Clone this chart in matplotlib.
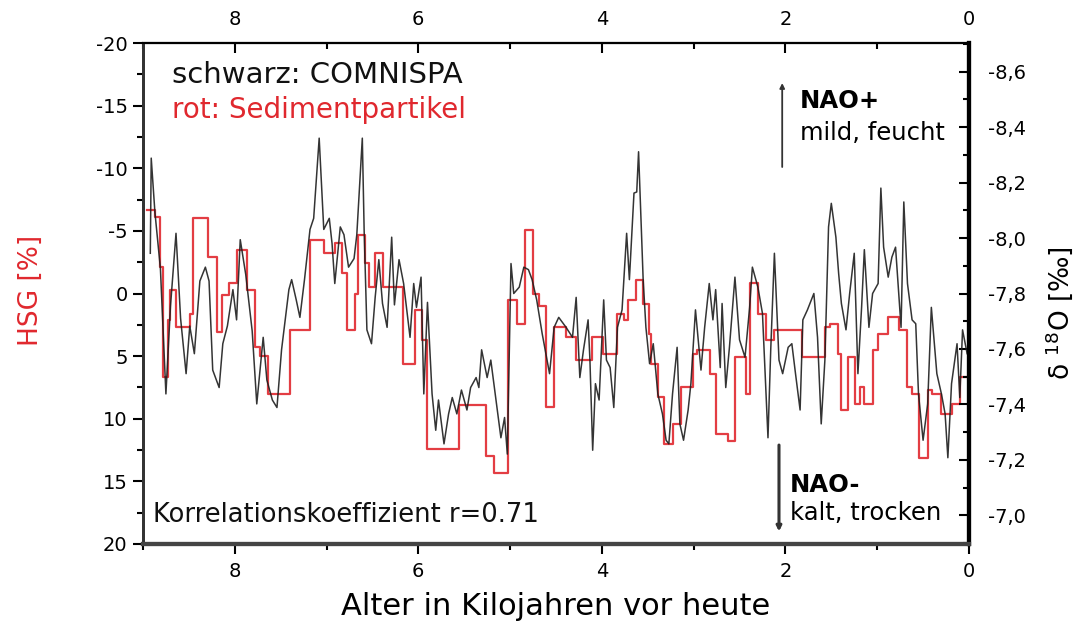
import matplotlib
matplotlib.use("Agg")
import matplotlib.pyplot as plt
from matplotlib.ticker import MultipleLocator, FuncFormatter

# ---------------- data ----------------
# COMNISPA delta18O record (black), age in ka BP
black_age = [8.92, 8.91, 8.87, 8.81, 8.75, 8.70, 8.64, 8.59, 8.53, 8.49,
             8.44, 8.38, 8.32, 8.28, 8.24, 8.17, 8.13, 8.08, 8.02, 7.98,
             7.94, 7.88, 7.81, 7.76, 7.69, 7.65, 7.59, 7.54, 7.49, 7.41,
             7.38, 7.33, 7.29, 7.24, 7.18, 7.14, 7.08, 7.03, 6.97, 6.94,
             6.91, 6.85, 6.81, 6.76, 6.70, 6.67, 6.61, 6.59, 6.56, 6.51,
             6.47, 6.43, 6.39, 6.34, 6.29, 6.26, 6.21, 6.16, 6.09, 6.05,
             6.02, 5.97, 5.94, 5.90, 5.85, 5.81, 5.78, 5.72, 5.67, 5.63,
             5.58, 5.53, 5.47, 5.43, 5.37, 5.34, 5.31, 5.25, 5.21, 5.14,
             5.10, 5.06, 5.03, 4.99, 4.96, 4.90, 4.85, 4.80, 4.76, 4.71,
             4.65, 4.61, 4.57, 4.52, 4.47, 4.39, 4.32, 4.28, 4.24, 4.20,
             4.15, 4.13, 4.10, 4.07, 4.03, 3.98, 3.95, 3.91, 3.87, 3.83,
             3.78, 3.73, 3.70, 3.65, 3.62, 3.60, 3.55, 3.52, 3.48, 3.44,
             3.39, 3.34, 3.30, 3.27, 3.23, 3.18, 3.15, 3.11, 3.06, 3.03,
             2.98, 2.92, 2.88, 2.83, 2.79, 2.76, 2.71, 2.69, 2.65, 2.61,
             2.55, 2.50, 2.44, 2.39, 2.36, 2.30, 2.25, 2.19, 2.16, 2.12,
             2.07, 2.03, 1.97, 1.93, 1.89, 1.84, 1.81, 1.76, 1.69, 1.65,
             1.61, 1.57, 1.53, 1.50, 1.45, 1.42, 1.39, 1.34, 1.30, 1.25,
             1.21, 1.17, 1.14, 1.09, 1.05, 0.99, 0.96, 0.93, 0.88, 0.84,
             0.80, 0.74, 0.71, 0.67, 0.62, 0.58, 0.55, 0.50, 0.45, 0.41,
             0.35, 0.30, 0.26, 0.23, 0.19, 0.13, 0.10, 0.07, 0.02]
black_d18o = [-7.945, -8.288, -8.094, -7.890, -7.438, -7.755, -8.017, -7.710, -7.511, -7.683,
              -7.583, -7.845, -7.895, -7.845, -7.524, -7.461, -7.619, -7.683, -7.814, -7.705,
              -7.994, -7.868, -7.665, -7.402, -7.642, -7.488, -7.416, -7.389, -7.597, -7.814,
              -7.850, -7.777, -7.714, -7.850, -8.031, -8.071, -8.360, -8.031, -8.071, -7.981,
              -7.836, -8.040, -8.012, -7.895, -7.926, -8.012, -8.360, -8.026, -7.669, -7.619,
              -7.786, -7.922, -7.764, -7.678, -8.003, -7.759, -7.922, -7.836, -7.642, -7.836,
              -7.750, -7.859, -7.438, -7.768, -7.438, -7.307, -7.416, -7.258, -7.366, -7.425,
              -7.366, -7.452, -7.380, -7.461, -7.497, -7.461, -7.597, -7.497, -7.560, -7.380,
              -7.280, -7.353, -7.221, -7.908, -7.800, -7.823, -7.895, -7.886, -7.850, -7.777,
              -7.655, -7.583, -7.511, -7.678, -7.714, -7.678, -7.642, -7.786, -7.497, -7.597,
              -7.705, -7.560, -7.235, -7.475, -7.416, -7.777, -7.560, -7.533, -7.389, -7.678,
              -7.741, -8.017, -7.850, -8.162, -8.166, -8.311, -7.850, -7.678, -7.547, -7.619,
              -7.438, -7.366, -7.271, -7.258, -7.438, -7.606, -7.330, -7.271, -7.380, -7.475,
              -7.741, -7.524, -7.678, -7.836, -7.705, -7.814, -7.533, -7.764, -7.461, -7.606,
              -7.859, -7.633, -7.570, -7.750, -7.895, -7.823, -7.728, -7.280, -7.597, -7.945,
              -7.560, -7.511, -7.606, -7.619, -7.511, -7.380, -7.705, -7.741, -7.800, -7.642,
              -7.330, -7.560, -8.040, -8.125, -8.003, -7.872, -7.764, -7.669, -7.800, -7.945,
              -7.511, -7.750, -7.958, -7.678, -7.800, -7.836, -8.180, -7.967, -7.859, -7.931,
              -7.967, -7.678, -8.130, -7.836, -7.705, -7.691, -7.438, -7.271, -7.402, -7.750,
              -7.511, -7.438, -7.366, -7.208, -7.475, -7.619, -7.425, -7.669, -7.583]

# Sediment particle HSG record (red, step line), age in ka BP
red_age = [8.96, 8.87, 8.81, 8.78, 8.73, 8.70, 8.64, 8.49, 8.46, 8.29,
           8.19, 8.14, 8.06, 7.98, 7.87, 7.78, 7.73, 7.64, 7.40, 7.18,
           7.03, 6.91, 6.83, 6.78, 6.69, 6.66, 6.58, 6.54, 6.47, 6.38,
           6.17, 6.04, 5.96, 5.90, 5.56, 5.26, 5.18, 5.02, 4.93, 4.84,
           4.75, 4.68, 4.61, 4.52, 4.39, 4.28, 4.11, 3.99, 3.83, 3.76,
           3.71, 3.63, 3.55, 3.49, 3.47, 3.39, 3.32, 3.23, 3.14, 3.01,
           2.96, 2.82, 2.76, 2.63, 2.55, 2.43, 2.39, 2.30, 2.21, 2.12,
           1.82, 1.57, 1.51, 1.43, 1.39, 1.32, 1.24, 1.19, 1.14, 1.05,
           0.99, 0.88, 0.76, 0.67, 0.62, 0.54, 0.45, 0.40, 0.30, 0.19,
           0.10, 0.00]
red_hsg = [-6.7, -6.1, -2.1, 6.7, 2.1, -0.3, 2.7, 1.6, -6.0, -2.9,
           3.1, 0.1, -0.8, -3.5, -0.3, 4.3, 5.0, 8.0, 2.9, -4.3,
           -3.2, -4.0, -1.6, 2.9, 0.0, -4.7, -2.4, -0.5, -3.2, -0.5,
           5.6, 1.3, 3.7, 12.4, 8.9, 13.0, 14.3, 0.5, 2.4, -5.1,
           0.0, 1.0, 9.1, 2.7, 3.5, 5.3, 3.5, 4.8, 1.6, 2.1,
           0.5, -1.1, 0.8, 3.2, 5.6, 8.3, 12.0, 10.4, 7.5, 4.8,
           4.5, 6.4, 11.2, 11.8, 5.1, 8.0, -0.8, 1.6, 3.7, 2.9,
           5.1, 2.7, 2.4, 4.8, 9.3, 5.1, 8.8, 7.5, 8.8, 4.5,
           3.2, 1.9, 2.9, 7.5, 8.0, 13.1, 7.7, 8.0, 9.6, 8.8,
           6.7, 6.7]

x_ticks = [8, 6, 4, 2, 0]
hsg_ticks = [-20, -15, -10, -5, 0, 5, 10, 15, 20]
d18o_ticks = [-8.6, -8.4, -8.2, -8.0, -7.8, -7.6, -7.4, -7.2, -7.0]

RED = "#e0282e"
BLACK = "#1e1e1e"

# ---------------- figure ----------------
plt.rcParams["font.family"] = ["DejaVu Sans"]
plt.rcParams["axes.unicode_minus"] = False

fig = plt.figure(figsize=(10.88, 6.26), dpi=100)
ax = fig.add_axes([0.1314, 0.131, 0.7592, 0.8003])
ax.set_xlim(9, 0)
ax.set_ylim(20, -20)

ax.plot(red_age, red_hsg, drawstyle="steps-post", color=RED, lw=1.6, alpha=0.9)

ax2 = ax.twinx()
ax2.set_ylim(-6.897, -8.703)
ax2.plot(black_age, black_d18o, color=BLACK, lw=1.1, alpha=0.9)

# left axis ticks (outward)
ax.set_yticks(hsg_ticks)
ax.yaxis.set_minor_locator(MultipleLocator(2.5))
ax.yaxis.set_major_formatter(FuncFormatter(lambda v, p: f"{v:g}"))
ax.tick_params(axis="y", which="both", direction="out", left=True, right=False,
               labelsize=14, pad=4)
ax.tick_params(axis="y", which="major", length=7, width=1.5)
ax.tick_params(axis="y", which="minor", length=4, width=1.5)

# bottom axis ticks (outward)
ax.set_xticks(x_ticks)
ax.xaxis.set_minor_locator(MultipleLocator(1))
ax.tick_params(axis="x", which="both", direction="out", bottom=True, top=False,
               labelsize=14, pad=6)
ax.tick_params(axis="x", which="major", length=7, width=1.5)
ax.tick_params(axis="x", which="minor", length=4, width=1.5)

# top axis ticks (inward)
secx = ax.secondary_xaxis("top")
secx.set_xticks(x_ticks)
secx.xaxis.set_minor_locator(MultipleLocator(1))
secx.tick_params(axis="x", which="both", direction="in", labelsize=14, pad=10)
secx.tick_params(axis="x", which="major", length=7, width=1.5)
secx.tick_params(axis="x", which="minor", length=4, width=1.5)
secx.spines["top"].set_linewidth(1.5)

# right axis ticks (inward)
ax2.set_yticks(d18o_ticks)
ax2.yaxis.set_minor_locator(MultipleLocator(0.1))
ax2.yaxis.set_major_formatter(FuncFormatter(lambda v, p: f"{v:.1f}".replace(".", ",")))
ax2.tick_params(axis="y", which="both", direction="in", labelsize=14, pad=14)
ax2.tick_params(axis="y", which="major", length=7, width=1.5)
ax2.tick_params(axis="y", which="minor", length=4, width=1.5)

for a in (ax, ax2):
    a.spines["left"].set_linewidth(2)
    a.spines["left"].set_color("#333333")
    a.spines["bottom"].set_linewidth(3)
    a.spines["bottom"].set_color("#444444")
    a.spines["top"].set_linewidth(1.5)
    a.spines["right"].set_linewidth(3)
    a.spines["right"].set_color("black")

# labels
ax.set_xlabel("Alter in Kilojahren vor heute", fontsize=22)
ax.xaxis.set_label_coords(0.499, -0.095)
ax.set_ylabel("HSG [%]", fontsize=19, color=RED)
ax.yaxis.set_label_coords(-0.12, 0.507)
ax2.set_ylabel("δ $^{18}$O [‰]", fontsize=19, rotation=90)
ax2.yaxis.set_label_coords(1.09, 0.46)

# annotations
ax.text(0.035, 0.92, "schwarz: COMNISPA", transform=ax.transAxes, fontsize=21,
        color="#111111", va="baseline")
ax.text(0.035, 0.85, "rot: Sedimentpartikel", transform=ax.transAxes, fontsize=20,
        color=RED, va="baseline")
ax.text(0.012, 0.044, "Korrelationskoeffizient r=0.71", transform=ax.transAxes,
        fontsize=18.5, color="#111111", va="baseline")

ax.text(0.795, 0.87, "NAO+", transform=ax.transAxes, fontsize=17.5,
        fontweight="bold", va="baseline")
ax.text(0.795, 0.806, "mild, feucht", transform=ax.transAxes, fontsize=17.5,
        va="baseline")
ax.text(0.783, 0.104, "NAO-", transform=ax.transAxes, fontsize=17.5,
        fontweight="bold", va="baseline")
ax.text(0.783, 0.048, "kalt, trocken", transform=ax.transAxes, fontsize=17.5,
        va="baseline")

ax.annotate("", xy=(2.035, -16.8), xytext=(2.035, -10.1),
            arrowprops=dict(arrowstyle="-|>", lw=1.3, color="#333333",
                            mutation_scale=7, shrinkA=0, shrinkB=0))
ax.annotate("", xy=(2.07, 19.0), xytext=(2.07, 12.1),
            arrowprops=dict(arrowstyle="-|>", lw=2.2, color="#333333",
                            mutation_scale=7, shrinkA=0, shrinkB=0))

fig.savefig("out.png", dpi=100)
